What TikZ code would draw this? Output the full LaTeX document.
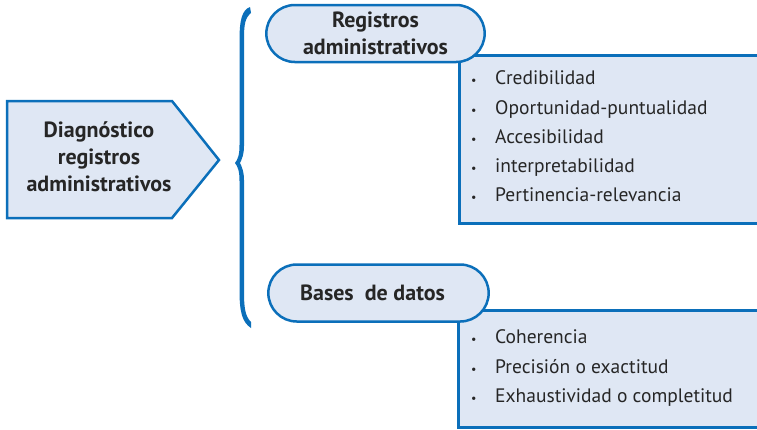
\documentclass[tikz,border=0pt]{standalone}
\usepackage{fontspec}
\setmainfont{PT Sans}
\usetikzlibrary{shapes.misc}
\definecolor{azul}{HTML}{0B6FBA}
\definecolor{celeste}{HTML}{DFE7F4}
\newcommand{\punto}{\makebox[24pt][l]{\fontsize{12}{12}\selectfont\textbullet}}

\begin{document}
\begin{tikzpicture}[x=1pt,y=-1pt,
    caja/.style={draw=azul,fill=celeste,line width=2.5pt},
    titulo/.style={rounded rectangle,caja,minimum height=57pt,align=center,
      font=\bfseries\fontsize{22}{26.5}\selectfont,text=black!85},
    lista/.style={align=left,anchor=west,inner sep=0pt,
      font=\fontsize{19.5}{29.3}\selectfont,text=black!85}]

  \useasboundingbox (0,0) rectangle (757,429);
  \clip (0,0) rectangle (757,429);

  \filldraw[caja] (7,101) -- (172,101) -- (219,160) -- (172,218) -- (7,218) -- cycle;
  \node[align=center,font=\bfseries\fontsize{22}{27}\selectfont,text=black!85]
    (diag) at (99,157) {Diagnóstico\\registros\\administrativos};

  \fill[azul] (250,7) .. controls (242,10) and (239.5,20) .. (239.5,40)
    -- (239.5,145) .. controls (239.5,155) and (238,159) .. (235,163)
    .. controls (238,167) and (239.5,171) .. (239.5,181)
    -- (239.5,290) .. controls (239.5,312) and (242,322) .. (251,328)
    -- (251,322) .. controls (245,316) and (244,308) .. (244,290)
    -- (244,180) .. controls (244,172) and (242,167) .. (240,163)
    .. controls (242,159) and (244,154) .. (244,146)
    -- (244,40) .. controls (244,24) and (245,18) .. (251,13) -- cycle;

  \node[caja,anchor=north west,minimum width=340pt,minimum height=168pt] (caja1) at (458,54) {};
  \node[titulo,minimum width=225pt] (reg) at (375.5,33.5) {Registros\\administrativos};
  \node[lista] (lista1) at (471,136.5) {\punto Credibilidad\\ \punto Oportunidad-puntualidad\\
    \punto Accesibilidad\\ \punto interpretabilidad\\ \punto Pertinencia-relevancia};

  \node[caja,anchor=north west,minimum width=340pt,minimum height=117pt] (caja2) at (457,309) {};
  \node[titulo,minimum width=227pt] (bases) at (378.5,293) {Bases\ \ de datos\hspace*{12pt}};
  \node[lista] (lista2) at (471,368) {\punto Coherencia\\ \punto Precisión o exactitud\\
    \punto Exhaustividad o completitud};
\end{tikzpicture}
\end{document}
